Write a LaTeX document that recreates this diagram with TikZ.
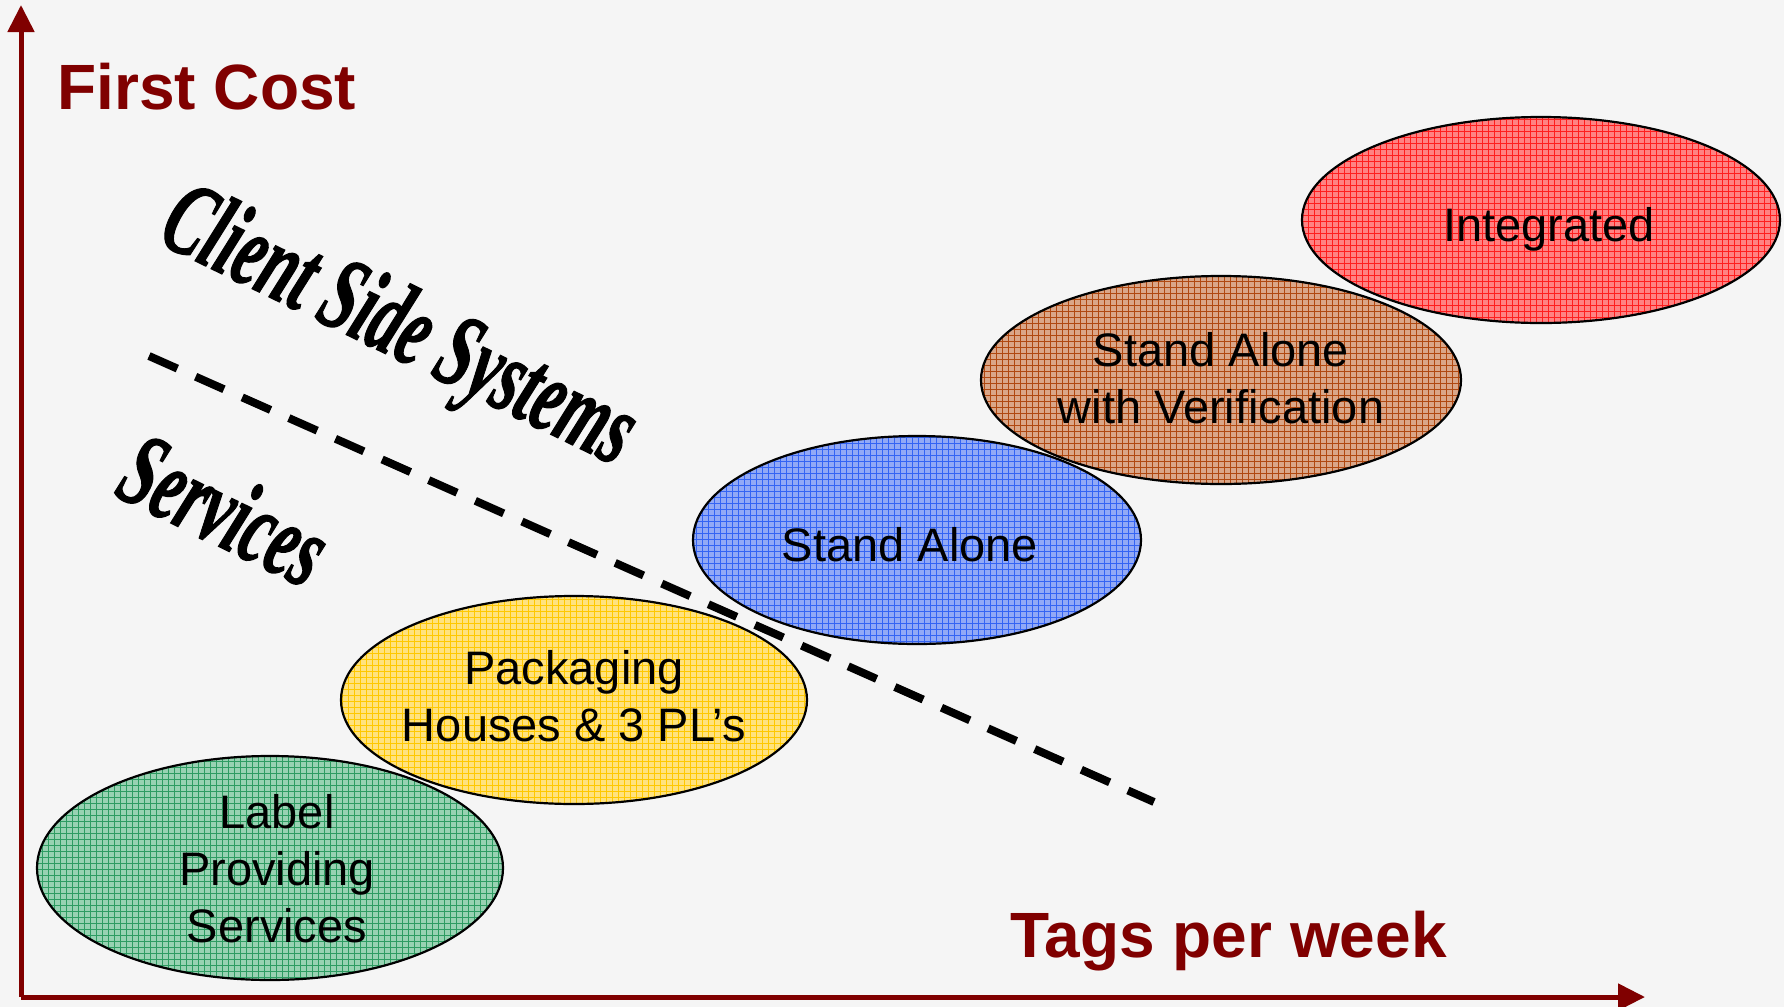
\documentclass[tikz,border=0pt]{standalone}
\usepackage{fontspec}
\setmainfont{Liberation Sans}
\newfontfamily\wordart{Liberation Serif}[BoldItalicFeatures={FakeBold=1.4}]
\usepackage{graphicx}
\usetikzlibrary{shapes.geometric,patterns,arrows.meta}
\definecolor{axisred}{HTML}{800000}
\definecolor{bgcol}{HTML}{F5F5F5}
\definecolor{gbg}{HTML}{98D2B2}\definecolor{gln}{HTML}{2E9C62}
\definecolor{ybg}{HTML}{FFE27E}\definecolor{yln}{HTML}{FFC800}
\definecolor{bbg}{HTML}{92A9F6}\definecolor{bln}{HTML}{3464F4}
\definecolor{nbg}{HTML}{DAA688}\definecolor{nln}{HTML}{B04810}
\definecolor{rbg}{HTML}{FF8282}\definecolor{rln}{HTML}{FF1E1E}
\tikzset{
  axis/.style={draw=axisred,line width=2.5pt,-{Triangle[length=13.5pt,width=13pt]}},
  axislabel/.style={text=axisred,font=\fontsize{32}{38}\selectfont\bfseries,anchor=base west,inner sep=0pt},
  blob/.style={ellipse,draw=black,line width=1.1pt,inner sep=0pt,
    preaction={fill=#1bg},pattern=grid,pattern color=#1ln},
  blobtext/.style={align=center,inner sep=0pt,font=\fontsize{23.5}{28.5}\selectfont},
  wa/.style={inner sep=0pt,font=\fontsize{53}{60}\selectfont\wordart\bfseries\itshape,rotate=-26},
  divider/.style={line width=4pt,dash pattern=on 15.5pt off 10pt},
}
\begin{document}
\begin{tikzpicture}[x=0.5pt,y=-0.5pt]
\fill[bgcol] (0,0) rectangle (1784,1007);
\useasboundingbox (0,0) rectangle (1784,1007);
% axes
\coordinate (origin) at (21,997);
\coordinate (ytip) at (21,5);
\coordinate (xtip) at (1645,997);
\draw[axis] (origin) -- (ytip);
\draw[axis] (origin) -- (xtip);
\node[axislabel] (firstcost) at (57,109) {First Cost};
\node[axislabel] (tags) at (1010,957) {Tags per week};
% ellipses
\node[blob=g,minimum width=233pt,minimum height=112pt] (green) at (270,868) {};
\node[blobtext] (greent) at (277,869) {Label\\Providing\\Services};
\node[blob=y,minimum width=233pt,minimum height=104pt] (yellow) at (574,700) {};
\node[blobtext] (yellowt) at (574,696) {Packaging\\Houses \& 3 PL’s};
\node[blob=b,minimum width=224pt,minimum height=104pt] (blue) at (917,540) {};
\node[blobtext] (bluet) at (910,545) {Stand Alone};
\node[blob=n,minimum width=240pt,minimum height=104pt] (brown) at (1221,380) {};
\node[blobtext] (brownt) at (1221,378) {Stand Alone\\with Verification};
\node[blob=r,minimum width=239pt,minimum height=103pt] (red) at (1541,220) {};
\node[blobtext] (redt) at (1549,229) {Integrated};
% divider
\coordinate (dstart) at (149,356);
\coordinate (dend) at (1154,802);
\draw[divider] (dstart) -- (dend);
% word art
\node[wa] (client) at (397,331) {\scalebox{0.6}[1]{Client Side Systems}};
\node[wa] (services) at (225,509) {\scalebox{0.6}[1]{Services}};
\end{tikzpicture}
\end{document}
